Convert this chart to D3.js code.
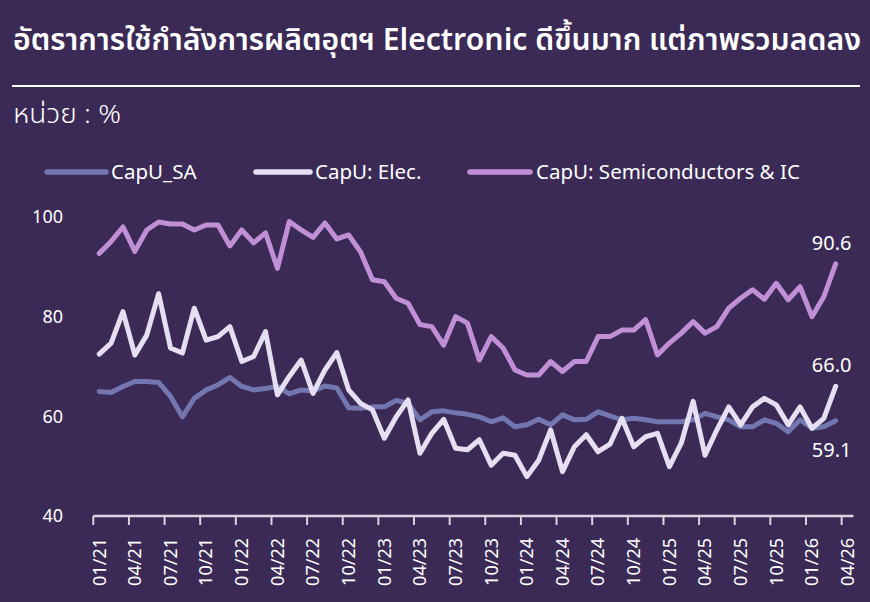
<!DOCTYPE html>
<html>
<head>
<meta charset="utf-8">
<script src="https://cdn.jsdelivr.net/npm/d3@7/dist/d3.min.js"></script>
<style>
  html, body { margin: 0; padding: 0; background: #3a2a55; }
  svg { display: block; }
  text { font-family: "Noto Sans Thai", "Noto Sans", "Open Sans", sans-serif; }
</style>
</head>
<body>
<svg id="chart" width="870" height="602"></svg>
<script>
// ---- data ----
const categories = (() => {
  const out = [];
  for (let y = 21; y <= 26; y++) {
    for (let m = 1; m <= 12; m++) {
      if (y === 26 && m > 4) break;
      out.push(String(m).padStart(2, "0") + "/" + y);
    }
  }
  return out;
})();
const tickLabels = ["01/21","04/21","07/21","10/21","01/22","04/22","07/22","10/22","01/23","04/23","07/23","10/23","01/24","04/24","07/24","10/24","01/25","04/25","07/25","10/25","01/26","04/26"];
const yTicks = [40, 60, 80, 100];

const seriesNames = ["CapU_SA", "CapU: Elec.", "CapU: Semiconductors & IC"];
const capuSA = [65.0,64.8,66.0,67.0,67.0,66.8,64.0,59.9,63.6,65.3,66.3,67.8,66.0,65.3,65.6,66.0,64.5,65.3,65.1,66.1,65.7,61.7,61.6,61.9,61.9,63.2,62.6,59.3,60.9,61.1,60.7,60.4,59.9,58.9,59.7,57.9,58.3,59.4,58.3,60.3,59.3,59.4,60.9,60.1,59.3,59.6,59.3,58.9,58.9,58.9,59.3,60.6,59.9,59.3,57.9,57.9,59.3,58.6,56.9,59.3,57.6,57.9,59.1];
const capuElec = [72.5,74.7,81.0,72.3,76.3,84.6,73.7,72.7,81.7,75.3,76.0,78.0,71.0,72.0,77.0,64.3,68.0,71.3,64.6,69.3,72.8,65.3,62.6,61.3,55.6,59.9,63.3,52.6,56.6,59.4,53.6,53.3,55.3,50.2,52.6,52.2,47.9,51.2,57.3,48.9,53.9,56.3,52.9,54.4,59.6,53.9,55.9,56.6,49.9,54.6,63.0,52.2,57.3,61.9,58.3,61.9,63.6,62.3,58.3,61.9,57.6,59.6,66.0];
const capuSemi = [92.7,95.1,98.0,93.1,97.4,99.0,98.6,98.6,97.4,98.4,98.4,94.2,97.4,94.8,96.8,89.7,99.1,97.4,95.9,98.8,95.6,96.4,93.0,87.4,87.0,83.7,82.7,78.4,78.0,74.3,80.0,78.7,71.3,76.0,73.7,69.3,68.3,68.3,71.0,69.0,71.0,71.0,76.0,76.0,77.3,77.3,79.4,72.3,74.7,76.7,79.0,76.7,78.0,81.7,83.7,85.4,83.5,86.7,83.4,86.0,80.0,84.0,90.6];
const endLabels = ["59.1", "66.0", "90.6"];

const colors = ["#7476b0", "#e6dff2", "#c08fd6"];

// ---- layout ----
const svg = d3.select("#chart");
const W = 870, H = 602;
svg.append("rect").attr("width", W).attr("height", H).attr("fill", "#3a2a55");

// title
svg.append("text")
  .attr("x", 13).attr("y", 50)
  .attr("fill", "#ffffff")
  .attr("font-size", 30)
  .attr("font-weight", 600)
  .attr("textLength", 848).attr("lengthAdjust", "spacingAndGlyphs")
  .text("อัตราการใช้กำลังการผลิตอุตฯ Electronic ดีขึ้นมาก แต่ภาพรวมลดลง");

svg.append("line")
  .attr("x1", 12).attr("x2", 860).attr("y1", 86).attr("y2", 86)
  .attr("stroke", "#ffffff").attr("stroke-width", 2);

svg.append("text")
  .attr("x", 13).attr("y", 123)
  .attr("fill", "#ffffff")
  .attr("font-size", 26)
  .attr("font-weight", 300)
  .attr("textLength", 108).attr("lengthAdjust", "spacingAndGlyphs")
  .text("หน่วย : %");

// scales
const x = d3.scaleBand().domain(categories).range([93.3, 853.5]).paddingInner(0).paddingOuter(0);
const xc = c => x(c) + x.bandwidth() / 2;
const y = d3.scaleLinear().domain([40, 100]).range([516, 217]);

// y axis labels
svg.append("g").selectAll("text").data(yTicks).join("text")
  .attr("x", 63).attr("y", d => y(d))
  .attr("dy", "0.35em")
  .attr("text-anchor", "end")
  .attr("fill", "#ffffff")
  .attr("font-size", 18)
  .text(d => d);

// x axis
const xAxis = svg.append("g").attr("transform", "translate(0,516)");
xAxis.append("line")
  .attr("x1", x.range()[0]).attr("x2", x.range()[1])
  .attr("stroke", "#d9d4e2").attr("stroke-width", 2.5);
const tickCats = categories.filter((c, i) => i % 3 === 0);
xAxis.selectAll("line.tick").data(tickCats).join("line")
  .attr("class", "tick")
  .attr("x1", d => x(d))
  .attr("x2", d => x(d))
  .attr("y1", 0).attr("y2", 9)
  .attr("stroke", "#d9d4e2").attr("stroke-width", 2);
xAxis.selectAll("text").data(tickLabels).join("text")
  .attr("transform", d => `translate(${xc(d)},22) rotate(-90)`)
  .attr("text-anchor", "end")
  .attr("dy", "0.35em")
  .attr("fill", "#ffffff")
  .attr("font-size", 18)
  .text(d => d);

// lines
const allSeries = [capuSA, capuElec, capuSemi];
const line = d3.line().x((d, i) => xc(categories[i])).y(d => y(d)).curve(d3.curveLinear);
svg.append("g").selectAll("path").data(allSeries).join("path")
  .attr("d", d => line(d))
  .attr("fill", "none")
  .attr("stroke", (d, i) => colors[i])
  .attr("stroke-width", 5)
  .attr("stroke-linejoin", "round")
  .attr("stroke-linecap", "round");

// end labels
svg.append("g").selectAll("text").data(endLabels).join("text")
  .attr("x", (d, i) => xc(categories[allSeries[i].length - 1]) - 4)
  .attr("y", (d, i) => {
    const v = allSeries[i][allSeries[i].length - 1];
    return i === 0 ? y(v) + 36 : y(v) - 14;
  })
  .attr("text-anchor", "middle")
  .attr("fill", "#ffffff")
  .attr("font-size", 20)
  .text(d => d);

// legend
const legendItems = [
  { name: seriesNames[0], x1: 47, x2: 106, tx: 111 },
  { name: seriesNames[1], x1: 256, x2: 310, tx: 315 },
  { name: seriesNames[2], x1: 470, x2: 530, tx: 536 }
];
const lg = svg.append("g");
legendItems.forEach((it, i) => {
  lg.append("line")
    .attr("x1", it.x1).attr("x2", it.x2).attr("y1", 172).attr("y2", 172)
    .attr("stroke", colors[i]).attr("stroke-width", 5.5).attr("stroke-linecap", "round");
  lg.append("text")
    .attr("x", it.tx).attr("y", 172).attr("dy", "0.35em")
    .attr("fill", "#ffffff").attr("font-size", 20.5)
    .text(it.name);
});
</script>
</body>
</html>
